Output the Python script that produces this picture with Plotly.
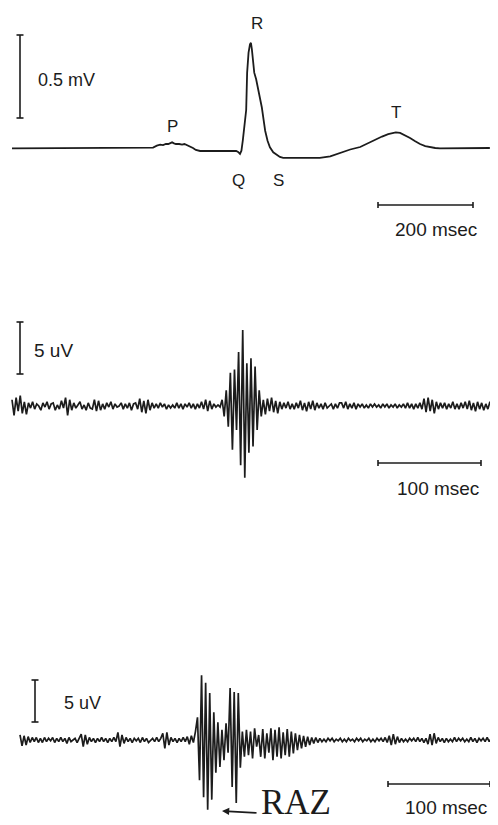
import plotly.graph_objects as go

W, H = 498, 825
OFF = 8  # the page body margin: the plot starts 8 px right and 8 px down in the window

# ---------------- DATA ----------------
# Panel 1: surface ECG (time in ms, amplitude in mV)
ecg_t = [0, 290, 297, 305, 312, 318, 324, 329, 334, 337, 341, 345, 352, 358, 363, 369, 375, 381, 387, 396,
         472, 476, 480, 483, 486, 490, 493, 495, 498, 501, 503, 505, 507, 510, 514, 518, 522, 526, 530, 533,
         538, 543, 550, 558, 564, 571, 600, 648, 670, 691, 712, 733, 750, 764, 779, 792, 800, 808, 817, 827,
         838, 848, 859, 870, 880, 891, 901, 950, 1006]
ecg_mv = [0.004, 0.004, 0.008, 0.02, 0.026, 0.024, 0.03, 0.03, 0.036, 0.04, 0.034, 0.03, 0.03, 0.026, 0.03, 0.022,
          0.016, 0.006, -0.006, -0.012,
          -0.012, -0.018, -0.03, -0.01, 0.054, 0.15, 0.235, 0.46, 0.58, 0.63, 0.64, 0.6, 0.52, 0.46, 0.42, 0.37,
          0.32, 0.25, 0.17, 0.11,
          0.05, 0.01, -0.02, -0.036, -0.048, -0.054, -0.054, -0.054, -0.045, -0.024, -0.003, 0.012, 0.036, 0.054,
          0.075, 0.09, 0.097, 0.1, 0.097, 0.084,
          0.066, 0.048, 0.03, 0.018, 0.012, 0.006, 0.004, 0.006, 0.006]

# Panels 2 and 3: high-gain signal-averaged traces, one sample every 2 ms, values in 0.1 uV
SAMPLE_MS = 2
saecg_normal = [
    6, -9, 8, -5, 10, -7, 4, -8, 3, -2,
    4, -3, 2, 0, -4, 3, -1, 4, -3, 2,
    3, -4, 1, -3, 5, -2, 8, -9, 6, -4,
    3, -2, 1, 4, -3, 1, -4, 3, -2, -3,
    6, -5, 5, -4, 2, -3, 3, -1, 4, -3,
    2, -1, 0, 3, -3, 2, -2, 3, -4, 2,
    3, -3, 7, -6, 5, -7, 6, -4, 3, -2,
    2, -2, 3, -1, 2, -3, 1, -2, 1, -2,
    3, -2, 2, -3, 2, -1, 3, -2, 2, -3,
    2, -2, 4, -3, 6, -5, 5, -3, 2, -1,
    1, -1, 6, -10, 15, -20, 32, -42, 35, -23,
    52, -57, 73, -69, 41, -45, 46, -39, 38, -23,
    15, -10, 6, -8, 7, -5, 8, -6, 5, -7,
    4, -3, 3, -2, 4, -3, 2, -3, 3, -2,
    5, -4, 3, -5, 4, -3, 5, -4, 3, -2,
    2, -3, 3, -2, 0, 2, -3, 2, -2, 3,
    3, -2, 4, -3, 2, -2, 3, -3, 2, -1,
    2, -2, 1, -2, 2, -1, 2, -1, 1, -2,
    2, -1, 2, -2, 1, -1, 2, -2, 1, -1,
    2, -2, 3, -2, 2, -3, 2, -2, 3, -3,
    7, -6, 8, -5, 6, -7, 4, -3, 3, -2,
    3, -3, 2, -2, 4, -3, 2, -3, 3, -2,
    4, -3, 5, -4, 3, -5, 4, -3, 3, -4,
    2, -3, 4, -2,
]
saecg_raz = [
    6, -7, 5, -6, 4, -3, 3, -2, 3, -3,
    2, -3, 3, -2, 2, -1, 3, -3, 2, -2,
    3, -2, 2, -4, 3, -2, 0, 2, -3, 3,
    7, -8, 6, -5, 3, -2, 2, -3, 2, -2,
    3, -2, 2, -3, 2, -2, 3, -2, 9, -8,
    6, -4, 3, -2, 2, -3, 2, -1, 2, -3,
    3, -2, 2, -3, 0, 2, -2, 3, -2, 2,
    8, -10, 9, -6, 3, -2, 2, -3, 2, -2,
    3, -2, 4, -5, 5, -3, 10,
    27, -48, 77, -68, 68, -83, 56, -71, 33, -39, 21, -32, 12, -24, 20, -15,
    62, -56, 57, -75, 56, -33, 10, -20,
    12, -18, 10, -22, 14, -8, 6, -20, 13, -22, 8, -15, 14, -24, 12, -20, 15, -22,
    9, -18, 13, -20, 10, -16, 8, -12, 6, -10, 5, -8, 4, -6, 3, -4, 3, -3,
    2, -2, 1, -2, 2, -1, 2, -2, 1, -1, 2, -2, 1,
    -2, 2, -1, 1, -2, 2, -1, 2, -2, 1,
    -1, 2, -2, 1, -2, 2, -1, 2, -2, 3,
    -3, 5, -6, 7, -5, 4, -3, 2, -2, 1,
    -2, 2, -1, 2, -2, 3, -2, 2, -3, 2,
    -5, 7, -6, 8, -4, 3, -2, 2, -3, 2,
    -2, 1, -2, 3, -2, 2, -1, 2, -2, 1,
    -2, 3, -2, 2, -3, 2, -1, 2, -2, 3,
    -2, 2, -1, 2, -2,
]

bar1_mv, bar1_ms = 0.5, 200
bar2_uv, bar2_ms = 5, 100
bar3_uv, bar3_ms = 5, 100

# ---------------- LAYOUT GEOMETRY (window pixels) ----------------
# x0: pixel of t=0, kx: px per ms, y0: baseline pixel, ky: px per unit, dom: (top, bottom) pixels
P = {
    1: dict(x0=12, kx=0.475, y0=149, ky=166, dom=(8, 262)),
    2: dict(x0=12, kx=1.03, y0=406, ky=10.4, dom=(290, 512)),
    3: dict(x0=20, kx=1.02, y0=740, ky=8.4, dom=(630, 833)),
}

def t_of(p, px):
    return (px - P[p]['x0']) / P[p]['kx']

def v_of(p, py):
    return (P[p]['y0'] - py) / P[p]['ky']

INK = '#1c1c1c'
fig = go.Figure()

def add(p, x, y, width):
    sfx = '' if p == 1 else str(p)
    fig.add_trace(go.Scatter(x=x, y=y, mode='lines', line=dict(color=INK, width=width),
                             xaxis='x' + sfx, yaxis='y' + sfx, hoverinfo='skip', showlegend=False))

# traces
add(1, ecg_t, ecg_mv, 1.8)
t2 = [i * SAMPLE_MS for i in range(len(saecg_normal))]
add(2, t2, [v / 10 for v in saecg_normal], 1.7)
t3 = [i * SAMPLE_MS for i in range(len(saecg_raz))]
add(3, t3, [v / 10 for v in saecg_raz], 1.7)

# scale bars
def vbar(p, px, py_top, amount, cap_px=3.5):
    tc = t_of(p, px); vt = v_of(p, py_top); vb = vt - amount
    dc = cap_px / P[p]['kx']
    xs = [tc, tc, None, tc - dc, tc + dc, None, tc - dc, tc + dc]
    ys = [vt, vb, None, vt, vt, None, vb, vb]
    add(p, xs, ys, 1.6)

def hbar(p, px_left, py, amount, cap_px=3):
    tl = t_of(p, px_left); tr = tl + amount; vv = v_of(p, py)
    dv = cap_px / P[p]['ky']
    xs = [tl, tr, None, tl, tl, None, tr, tr]
    ys = [vv, vv, None, vv - dv, vv + dv, None, vv - dv, vv + dv]
    add(p, xs, ys, 1.6)

vbar(1, 20, 35, bar1_mv)
hbar(1, 378, 205, bar1_ms)
vbar(2, 20, 322, bar2_uv)
hbar(2, 378, 463, bar2_ms)
vbar(3, 35, 680, bar3_uv)
hbar(3, 388, 784, bar3_ms)

# axes (window px -> figure px by removing the offset)
layout = dict(width=W, height=H, margin=dict(l=0, r=0, t=0, b=0), autosize=False,
              paper_bgcolor='white', plot_bgcolor='white', showlegend=False)
for p in (1, 2, 3):
    sfx = '' if p == 1 else str(p)
    top, bot = P[p]['dom']
    ft, fb = top - OFF, bot - OFF
    layout['xaxis' + sfx] = dict(domain=[0, 1], range=[t_of(p, OFF), t_of(p, OFF + W)], visible=False,
                                 anchor='y' + sfx)
    layout['yaxis' + sfx] = dict(domain=[1 - fb / H, 1 - ft / H], range=[v_of(p, bot), v_of(p, top)],
                                 visible=False, anchor='x' + sfx)
fig.update_layout(**layout)

SANS = 'Liberation Sans, Arial, sans-serif'

def px_x(sx):
    return (sx - OFF) / W

def px_y(sy):
    return 1 - (sy - OFF) / H

def label(text, sx, sy, size=19, xanchor='center', family=SANS, yanchor='middle'):
    fig.add_annotation(text=text, x=px_x(sx), y=px_y(sy), xref='paper', yref='paper', showarrow=False,
                       xanchor=xanchor, yanchor=yanchor, font=dict(family=family, size=size, color=INK))

label('0.5 mV', 36, 80, 18, 'left')
label('P', 172, 126, 17)
label('R', 257, 23, 17)
label('Q', 238, 180, 17)
label('S', 278, 180, 17)
label('T', 396, 112, 17)
label('200 msec', 436, 230, 19)
label('5 uV', 32, 350, 19, 'left')
label('100 msec', 438, 488, 19)
label('5 uV', 62, 703, 18, 'left')
label('100 msec', 446, 807, 19)
label('RAZ', 296, 824, 35, 'center', 'Liberation Serif, Times New Roman, serif', 'bottom')

fig.add_annotation(x=px_x(222), y=px_y(811), xref='paper', yref='paper', text='',
                   showarrow=True, ax=36, ay=2, arrowhead=2, arrowsize=0.9, arrowwidth=1.6,
                   arrowcolor=INK)

fig.write_html('out.html')
